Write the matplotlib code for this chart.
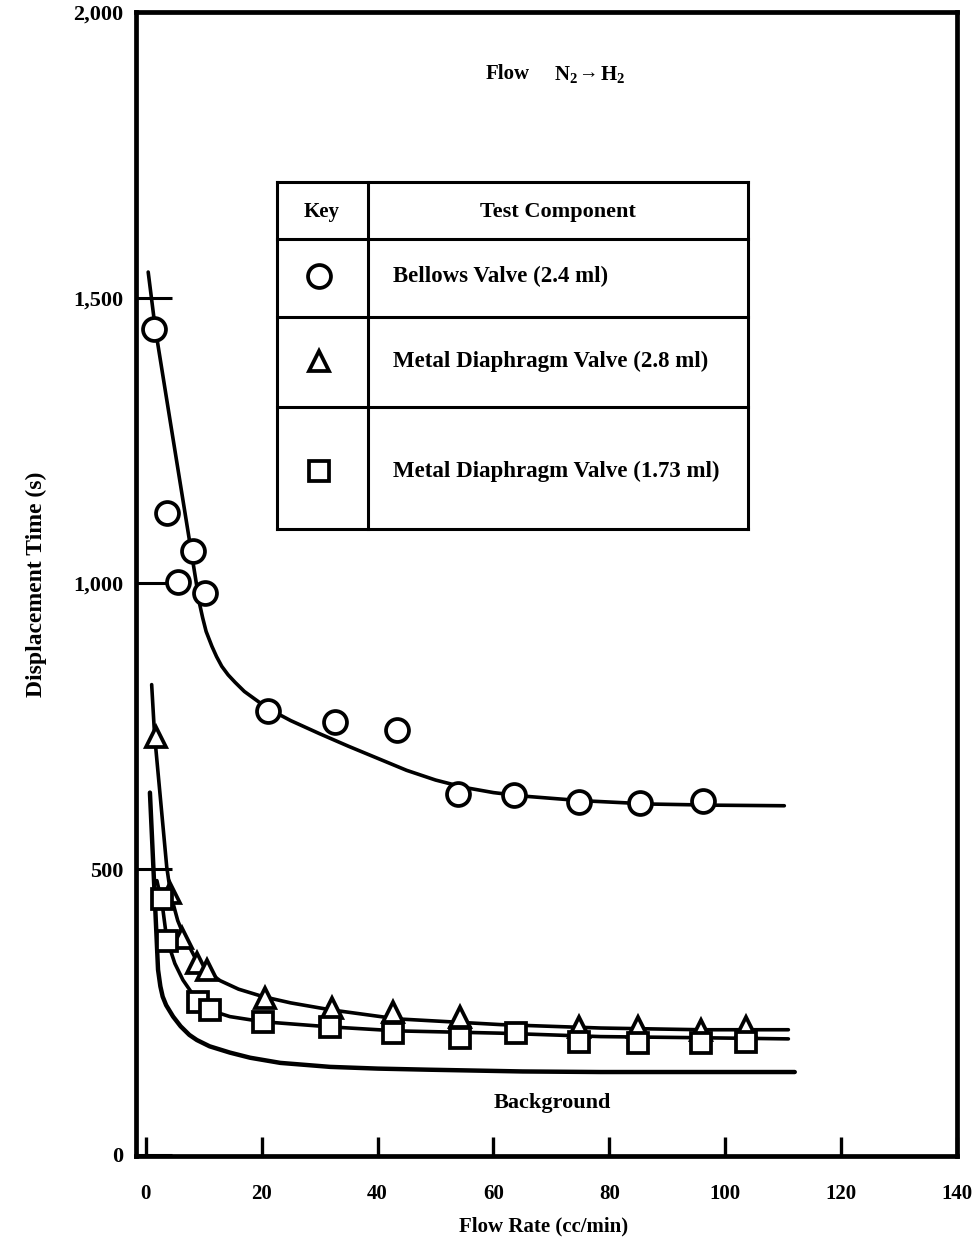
import matplotlib
matplotlib.use("Agg")
import matplotlib.pyplot as plt

# ---- data ----
# Bellows Valve (2.4 ml) - circles
bell_x = [1.4, 3.6, 8.1, 5.5, 10.2, 21.1, 32.7, 43.4, 53.8, 63.5, 74.7, 85.3, 96.2]
bell_y = [1445, 1124, 1056, 1003, 984, 776, 758, 744, 632, 630, 618, 615, 620]
# Metal Diaphragm Valve (2.8 ml) - triangles
tri_x = [1.7, 4.2, 6.2, 8.8, 10.6, 20.6, 32.2, 42.7, 54.3, 74.7, 85.0, 95.8, 103.6]
tri_y = [732, 459, 380, 336, 324, 275, 257, 250, 242, 224, 224, 219, 224]
# Metal Diaphragm Valve (1.73 ml) - squares
sq_x = [2.8, 3.6, 9.0, 11.1, 20.2, 31.8, 42.7, 54.3, 63.8, 74.7, 85.0, 95.8, 103.6]
sq_y = [447, 375, 268, 254, 233, 224, 214, 205, 214, 198, 196, 196, 198]

# fitted curves
bell_cx = [0.4, 1.6, 4.2, 6.7, 8.1, 9.3, 9.8, 10.4, 11.4, 12.2, 13.1, 14.2, 15.4, 17.0,
           18.9, 21.1, 25.0, 30.0, 35.0, 40.0, 45.0, 50.0, 55.0, 60.0, 65.0, 75.0, 87.0,
           98.0, 110.2]
bell_cy = [1545, 1448, 1284, 1127, 1039, 963, 940, 916, 890, 872, 855, 840, 827, 811,
           797, 781, 760, 737, 715, 694, 673, 656, 643, 634, 628, 620, 614, 612, 611]
tri_cx = [1.0, 1.5, 3.6, 4.3, 5.5, 6.7, 8.5, 10.2, 12.8, 16.0, 20.2, 25.0, 31.8, 43.4,
          61.2, 78.5, 95.8, 110.9]
tri_cy = [823, 735, 504, 455, 410, 380, 345, 324, 305, 290, 277, 266, 254, 238,
          228, 222, 219, 219]
sq_cx = [1.9, 2.8, 3.6, 5.0, 6.4, 8.5, 10.5, 14.5, 20.2, 31.8, 43.4, 61.2, 78.5, 95.8, 110.9]
sq_cy = [480, 440, 378, 335, 306, 275, 255, 242, 233, 224, 217, 213, 207, 205, 203]
bg_cx = [0.7, 1.4, 2.1, 2.5, 2.9, 3.5, 4.7, 6.0, 7.5, 8.8, 11.0, 14.5, 18.0, 23.2, 31.8,
         40.0, 49.1, 65.0, 78.5, 112.0]
bg_cy = [634, 480, 324, 295, 277, 262, 242, 225, 210, 201, 190, 179, 170, 161, 154,
         151, 149, 146, 145, 145]

x_ticks = [0, 20, 40, 60, 80, 100, 120, 140]
y_ticks = [0, 500, 1000, 1500, 2000]
y_tick_labels = ["0", "500", "1,000", "1,500", "2,000"]
legend_labels = ["Bellows Valve (2.4 ml)", "Metal Diaphragm Valve (2.8 ml)",
                 "Metal Diaphragm Valve (1.73 ml)"]

SERIF = ["Liberation Serif", "DejaVu Serif"]
plt.rcParams["font.family"] = SERIF
plt.rcParams["font.weight"] = "bold"

fig = plt.figure(figsize=(9.8, 12.56), dpi=100)
ax = fig.add_axes([0.1388, 0.0796, 0.8377, 0.9108])
ax.set_xlim(-1.7, 140)
ax.set_ylim(-2, 2000)

for s in ax.spines.values():
    s.set_linewidth(3.4)

lw = 2.6
ax.plot(bell_cx, bell_cy, color="black", lw=lw, zorder=2, solid_capstyle="round",
        solid_joinstyle="round")
ax.plot(tri_cx, tri_cy, color="black", lw=lw, zorder=2, solid_capstyle="round",
        solid_joinstyle="round")
ax.plot(sq_cx, sq_cy, color="black", lw=lw, zorder=2, solid_capstyle="round",
        solid_joinstyle="round")
ax.plot(bg_cx, bg_cy, color="black", lw=lw + 0.6, zorder=2, solid_capstyle="round",
        solid_joinstyle="round")

mk = dict(linestyle="none", markerfacecolor="white", markeredgecolor="black",
          markeredgewidth=2.7, zorder=3)
ax.plot(bell_x, bell_y, marker="o", markersize=16.5, **mk)
ax.plot(tri_x, tri_y, marker="^", markersize=15, **mk)
ax.plot(sq_x, sq_y, marker="s", markersize=14.5, **mk)

ax.set_xticks(x_ticks)
ax.set_xticklabels([str(v) for v in x_ticks])
ax.set_yticks(y_ticks)
ax.set_yticklabels(y_tick_labels)
ax.tick_params(axis="x", direction="in", length=14, width=2.4, pad=20, labelsize=15)
ax.tick_params(axis="y", direction="in", length=26, width=2.2, pad=9, labelsize=16)
for lab in ax.get_xticklabels() + ax.get_yticklabels():
    lab.set_fontweight("bold")

ax.set_ylabel("Displacement Time (s)", fontsize=17, fontweight="bold")
ax.yaxis.set_label_coords(-0.108, 0.5)
ax.set_xlabel("Flow Rate (cc/min)", fontsize=15, fontweight="bold")
ax.xaxis.set_label_coords(0.496, -0.053)

# annotation texts
ax.text(58.7, 1891, "Flow", fontsize=15, fontweight="bold", ha="left", va="center")
ax.text(70.4, 1891, "N$\\mathregular{_2}$", fontsize=15, fontweight="bold",
        ha="left", va="center")
ax.text(76.3, 1893, "\u2192", fontsize=14, fontweight="bold", ha="center", va="center")
ax.text(78.4, 1891, "H$\\mathregular{_2}$", fontsize=15, fontweight="bold",
        ha="left", va="center")
ax.text(70.2, 91, "Background", fontsize=16, fontweight="bold", ha="center", va="center")

# key table
tx0, tx1, tcol = 22.7, 104.0, 38.4
row_y = [1702, 1602, 1466, 1308, 1095]
tkw = dict(color="black", lw=2.2, zorder=4, solid_capstyle="projecting")
for yv in row_y:
    ax.plot([tx0, tx1], [yv, yv], **tkw)
for xv in [tx0, tcol, tx1]:
    ax.plot([xv, xv], [row_y[0], row_y[-1]], **tkw)

ax.text(30.4, 1650, "Key", fontsize=15, fontweight="bold", ha="center", va="center")
ax.text(71.1, 1650, "Test Component", fontsize=16, fontweight="bold", ha="center",
        va="center")
text_y = [1538, 1389, 1196]
markers = ["o", "^", "s"]
msizes = [16.5, 14, 15]
for lab, yv, m, ms in zip(legend_labels, text_y, markers, msizes):
    ax.text(42.7, yv, lab, fontsize=16.5, fontweight="bold", ha="left", va="center")
    ax.plot([29.8], [yv], marker=m, markersize=ms, **mk)

fig.savefig("out.png", dpi=100)
